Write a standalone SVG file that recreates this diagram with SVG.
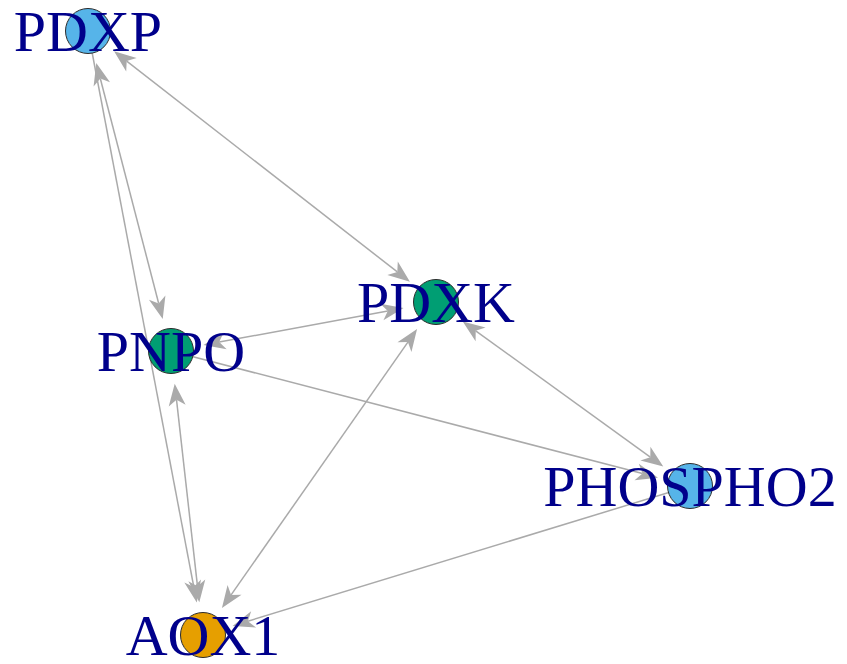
<svg xmlns="http://www.w3.org/2000/svg" width="847" height="664" viewBox="0 0 847 664">
<style>
.e{stroke:#AAAAAA;stroke-width:1.5;fill:none}
.b{marker-start:url(#ah);marker-end:url(#ah)}
.o{marker-end:url(#ah)}
.n{stroke:#2b2b2b;stroke-width:1}
.t{font-family:"Liberation Serif","Times New Roman",serif;font-size:58px;fill:#00008B;text-anchor:middle}
</style>
<defs>
<marker id="ah" markerUnits="userSpaceOnUse" orient="auto-start-reverse" refX="0" refY="0" markerWidth="30" markerHeight="30" viewBox="-10 -15 30 30" overflow="visible">
<path d="M16,0 L-6,-8.5 L0,0 L-6,8.5 Z" fill="#AAAAAA"/>
</marker>
</defs>
<rect width="847" height="664" fill="#ffffff"/>
<g id="connectors">
<line class="e b" x1="126.7" y1="61.1" x2="397.3" y2="271.9"/>
<line class="e b" x1="100.3" y1="78.5" x2="158.7" y2="303.5"/>
<line class="e o" x1="88" y1="31" x2="193.8" y2="586.9"/>
<line class="e b" x1="176.5" y1="399.7" x2="197.5" y2="586.3"/>
<line class="e b" x1="219.2" y1="342.1" x2="387.8" y2="310.9"/>
<line class="e o" x1="171" y1="351" x2="642.5" y2="473.6"/>
<line class="e b" x1="475.7" y1="330.8" x2="650.3" y2="457.2"/>
<line class="e b" x1="407.9" y1="342.1" x2="231.1" y2="594.9"/>
<line class="e o" x1="690" y1="486" x2="247.9" y2="621.2"/>
</g>
<g id="PDXP"><circle class="n" cx="88" cy="31" r="22.5" fill="#56B4E9"/><text class="t" x="88" y="51">PDXP</text></g>
<g id="PNPO"><circle class="n" cx="171" cy="351" r="22.5" fill="#009E73"/><text class="t" x="171" y="371">PNPO</text></g>
<g id="PDXK"><circle class="n" cx="436" cy="302" r="22.5" fill="#009E73"/><text class="t" x="436" y="322">PDXK</text></g>
<g id="PHOSPHO2"><circle class="n" cx="690" cy="486" r="22.5" fill="#56B4E9"/><text class="t" x="690" y="506">PHOSPHO2</text></g>
<g id="AOX1"><circle class="n" cx="203" cy="635" r="22.5" fill="#E69F00"/><text class="t" x="203" y="655">AOX1</text></g>
</svg>
